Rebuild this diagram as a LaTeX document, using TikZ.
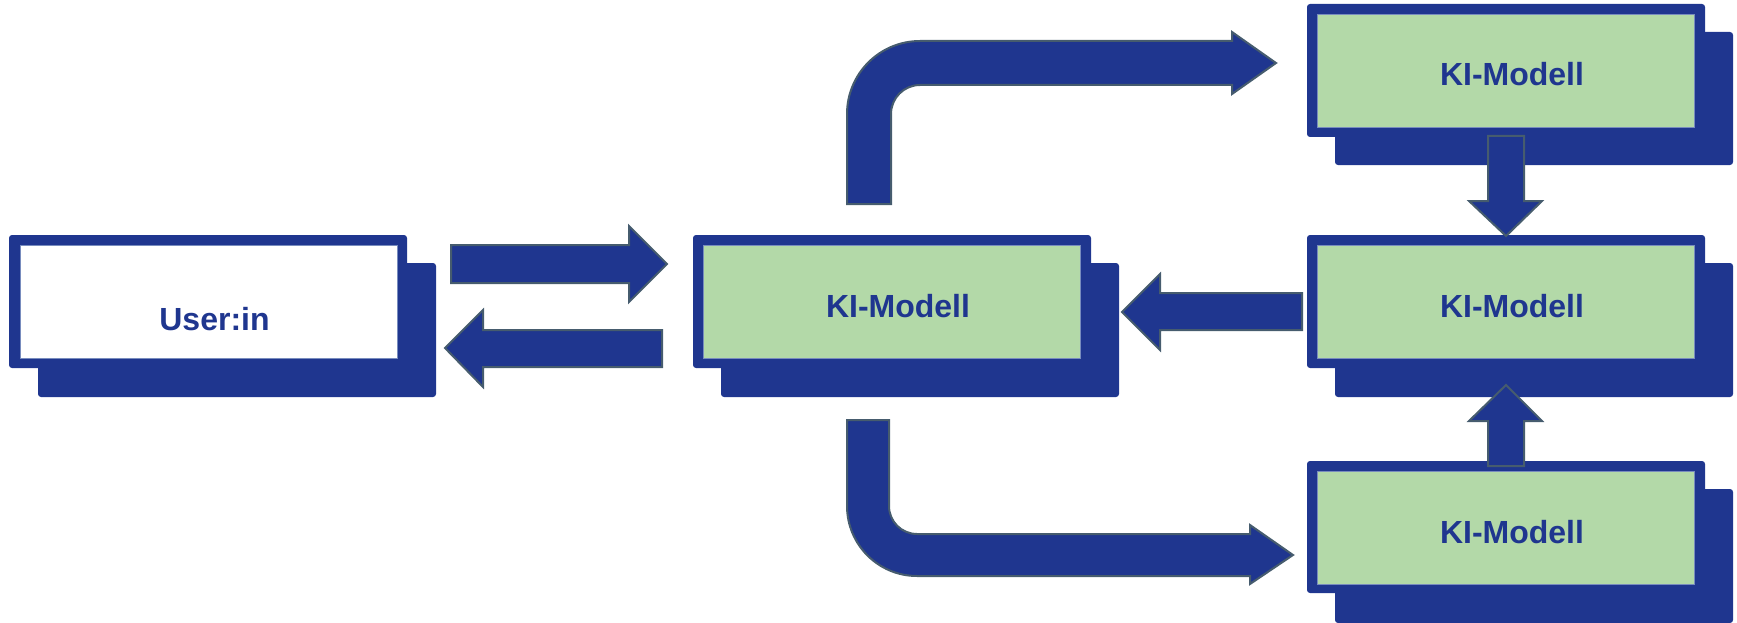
\documentclass[tikz,border=0pt]{standalone}
\usepackage{fontspec}
\setmainfont{Liberation Sans}
\definecolor{kiblue}{RGB}{31,54,143}
\definecolor{kigreen}{RGB}{179,217,168}
\definecolor{arrowline}{RGB}{70,92,110}
\definecolor{innerline}{RGB}{120,140,190}
\tikzset{
  backplate/.style={fill=kiblue, rounded corners=3pt},
  frontplate/.style={fill=kiblue, rounded corners=3pt},
  panel/.style={draw=innerline, line width=0.8pt, fill=kigreen,
    minimum width=377pt, minimum height=113pt, inner sep=0pt,
    text=kiblue, font=\fontsize{32}{38}\selectfont\bfseries,
    text height=31pt, text depth=0pt,
    execute at begin node={\hspace*{12pt}}},
  userpanel/.style={panel, fill=white, text height=58pt},
  blockarrow/.style={fill=kiblue, draw=arrowline, line width=2pt, line join=miter}
}
\begin{document}
\begin{tikzpicture}[x=1pt, y=-1pt]
\useasboundingbox (0,0) rectangle (1737,623);

% user box
\fill[backplate] (38,263) rectangle (436,397);
\fill[frontplate] (9,235) rectangle (407,368);
\node[userpanel] (user) at (208.5,301.5) {User:in};

% central model
\fill[backplate] (721,263) rectangle (1119,397);
\fill[frontplate] (693,235) rectangle (1091,368);
\node[panel] (center) at (892,301.5) {KI-Modell};

% upper right model
\fill[backplate] (1335,32) rectangle (1733,165);
\fill[frontplate] (1307,4) rectangle (1705,137);
\node[panel] (top) at (1506,70.5) {KI-Modell};

% middle right model
\fill[backplate] (1335,263) rectangle (1733,397);
\fill[frontplate] (1307,235) rectangle (1705,368);
\node[panel] (mid) at (1506,301.5) {KI-Modell};

% lower right model
\fill[backplate] (1335,489) rectangle (1733,623);
\fill[frontplate] (1307,461) rectangle (1705,593);
\node[panel] (bottom) at (1506,527.5) {KI-Modell};

% request: user to model
\draw[blockarrow] (451,245) -- (629,245) -- (629,226) -- (667,264)
  -- (629,302) -- (629,283) -- (451,283) -- cycle;
% answer: model to user
\draw[blockarrow] (662,330) -- (483,330) -- (483,310) -- (445,348)
  -- (483,387) -- (483,367) -- (662,367) -- cycle;
% middle model back to central model
\draw[blockarrow] (1302,293) -- (1160,293) -- (1160,274) -- (1122,312)
  -- (1160,350) -- (1160,330) -- (1302,330) -- cycle;
% upper model down to middle model
\draw[blockarrow] (1488,136) -- (1524,136) -- (1524,201) -- (1542,201)
  -- (1506,236) -- (1469,201) -- (1488,201) -- cycle;
% lower model up to middle model
\draw[blockarrow] (1488,466) -- (1524,466) -- (1524,421) -- (1542,421)
  -- (1506,385) -- (1469,421) -- (1488,421) -- cycle;

% bent arrow from central model to upper model
\draw[blockarrow] (847,204) -- (847,114) arc[start angle=180, end angle=270, radius=73]
  -- (1232,41) -- (1232,32) -- (1276,63) -- (1232,94) -- (1232,85)
  -- (920,85) arc[start angle=270, end angle=180, radius=29]
  -- (891,204) -- cycle;

% bent arrow from central model to lower model
\draw[blockarrow] (847,420) -- (847,506) arc[start angle=180, end angle=90, radius=70]
  -- (1250,576) -- (1250,584) -- (1293,555) -- (1250,525) -- (1250,534)
  -- (917,534) arc[start angle=90, end angle=180, radius=28]
  -- (889,420) -- cycle;
\end{tikzpicture}
\end{document}
